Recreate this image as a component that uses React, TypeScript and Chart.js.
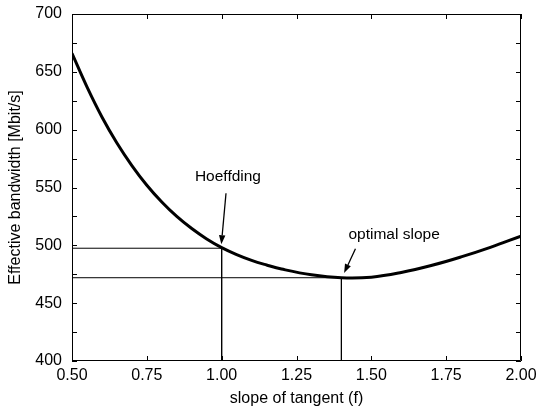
import React, { useEffect, useRef } from "react";
import { Chart, registerables } from "chart.js";

Chart.register(...registerables);

// slope of tangent (f)
const slopeValues = [0.5, 0.55, 0.6, 0.65, 0.7, 0.75, 0.8, 0.85, 0.9, 0.95, 1.0, 1.05, 1.1, 1.15, 1.2, 1.3, 1.4, 1.5, 1.6, 1.7, 1.8, 1.9, 2.0];
// Effective bandwidth [Mbit/s]
const bandwidthValues = [666, 637, 611, 588.5, 569, 552, 537.5, 525, 514.5, 505.5, 498, 492, 487, 483, 479.5, 474.5, 472, 472.5, 476.5, 482.5, 490, 498.5, 508];

const xTickValues = [0.5, 0.75, 1.0, 1.25, 1.5, 1.75, 2.0];
const yLabelStep = 50;
const yTickStep = 25;

const hoeffdingPoint = { x: 1.0, y: 497.5 };
const optimalPoint = { x: 1.4, y: 472 };

// annotation anchors in data coordinates
const hoeffdingLabel = { text: "Hoeffding", x: 1.021, y: 559 };
const hoeffdingArrow = { x1: 1.0145, y1: 545, x2: 0.999, y2: 501 };
const optimalLabel = { text: "optimal slope", x: 1.576, y: 509 };
const optimalArrow = { x1: 1.447, y1: 497, x2: 1.409, y2: 476 };

const FONT = "'Liberation Sans', Arial, Helvetica, sans-serif";

export default function App() {
  const ref = useRef<HTMLCanvasElement | null>(null);

  useEffect(() => {
    document.body.style.margin = "0";
    const canvas = ref.current;
    if (!canvas) return;

    const framePlugin = {
      id: "frameTicks",
      afterDatasetsDraw(chart: any) {
        const { ctx, chartArea, scales } = chart;
        const xs = scales.x;
        const ys = scales.y;
        const { left, right, top, bottom } = chartArea;
        ctx.save();
        ctx.strokeStyle = "#000";
        ctx.lineWidth = 1;
        ctx.beginPath();
        ctx.rect(left + 0.5, top + 0.5, right - left - 1, bottom - top - 1);
        ctx.stroke();
        const tl = 5;
        ctx.beginPath();
        ys.ticks.forEach((t: any) => {
          const p = Math.round(ys.getPixelForValue(t.value)) + 0.5;
          ctx.moveTo(left, p);
          ctx.lineTo(left + tl, p);
          ctx.moveTo(right, p);
          ctx.lineTo(right - tl, p);
        });
        xs.ticks.forEach((t: any) => {
          const p = Math.round(xs.getPixelForValue(t.value)) + 0.5;
          ctx.moveTo(p, bottom);
          ctx.lineTo(p, bottom - tl);
          ctx.moveTo(p, top);
          ctx.lineTo(p, top + tl);
        });
        ctx.stroke();

        // annotations
        ctx.fillStyle = "#000";
        ctx.font = `15.5px ${FONT}`;
        ctx.textAlign = "center";
        ctx.textBaseline = "middle";
        [hoeffdingLabel, optimalLabel].forEach((l) => {
          ctx.fillText(l.text, xs.getPixelForValue(l.x), ys.getPixelForValue(l.y));
        });
        [hoeffdingArrow, optimalArrow].forEach((a) => {
          const x1 = xs.getPixelForValue(a.x1);
          const y1 = ys.getPixelForValue(a.y1);
          const x2 = xs.getPixelForValue(a.x2);
          const y2 = ys.getPixelForValue(a.y2);
          const ang = Math.atan2(y2 - y1, x2 - x1);
          const hl = 9;
          const hw = 3.2;
          const bx = x2 - hl * Math.cos(ang);
          const by = y2 - hl * Math.sin(ang);
          ctx.lineWidth = 1.3;
          ctx.beginPath();
          ctx.moveTo(x1, y1);
          ctx.lineTo(bx, by);
          ctx.stroke();
          ctx.beginPath();
          ctx.moveTo(x2, y2);
          ctx.lineTo(bx + hw * Math.sin(ang), by - hw * Math.cos(ang));
          ctx.lineTo(bx - hw * Math.sin(ang), by + hw * Math.cos(ang));
          ctx.closePath();
          ctx.fill();
        });
        ctx.restore();
      },
    };

    const curve = slopeValues.map((x, i) => ({ x, y: bandwidthValues[i] }));
    const thin = {
      borderColor: "#000",
      borderWidth: 1,
      pointRadius: 0,
      fill: false,
      tension: 0,
    };

    const chart = new Chart(canvas, {
      type: "line",
      data: {
        datasets: [
          {
            data: curve,
            borderColor: "#000",
            borderWidth: 3,
            pointRadius: 0,
            fill: false,
            tension: 0.4,
          },
          {
            ...thin,
            data: [
              { x: 0.5, y: hoeffdingPoint.y },
              { x: hoeffdingPoint.x, y: hoeffdingPoint.y },
              { x: hoeffdingPoint.x, y: 400 },
            ],
          },
          {
            ...thin,
            data: [
              { x: 0.5, y: optimalPoint.y },
              { x: optimalPoint.x, y: optimalPoint.y },
              { x: optimalPoint.x, y: 400 },
            ],
          },
        ],
      },
      options: {
        responsive: false,
        animation: false,
        layout: { padding: { top: 14, right: 15, left: 0, bottom: 0 } },
        plugins: { legend: { display: false }, tooltip: { enabled: false } },
        scales: {
          x: {
            type: "linear",
            min: 0.5,
            max: 2.0,
            afterBuildTicks: (scale: any) => {
              scale.ticks = xTickValues.map((v) => ({ value: v }));
            },
            afterFit: (scale: any) => {
              scale.height = 49;
              scale.paddingLeft = 0;
              scale.paddingRight = 0;
            },
            grid: { display: false, drawTicks: false },
            border: { display: false },
            ticks: {
              color: "#000",
              font: { family: FONT, size: 16 },
              padding: 5,
              maxRotation: 0,
              autoSkip: false,
              callback: (v: any) => Number(v).toFixed(2),
            },
            title: {
              display: true,
              text: "slope of tangent (f)",
              color: "#000",
              font: { family: FONT, size: 16 },
              padding: { top: 0, bottom: 1.5 },
            },
          },
          y: {
            type: "linear",
            min: 400,
            max: 700,
            afterFit: (scale: any) => {
              scale.width = 72;
              scale.paddingTop = 0;
              scale.paddingBottom = 0;
            },
            grid: { display: false, drawTicks: false },
            border: { display: false },
            ticks: {
              stepSize: yTickStep,
              color: "#000",
              font: { family: FONT, size: 16 },
              padding: 10,
              autoSkip: false,
              callback: (v: any) => (Number(v) % yLabelStep === 0 ? String(v) : ""),
            },
            title: {
              display: true,
              text: "Effective bandwidth [Mbit/s]",
              color: "#000",
              font: { family: FONT, size: 16 },
              padding: { top: 5.5, bottom: 0 },
            },
          },
        },
      },
      plugins: [framePlugin],
    } as any);

    return () => chart.destroy();
  }, []);

  return <canvas ref={ref} width={536} height={410} style={{ display: "block" }} />;
}
